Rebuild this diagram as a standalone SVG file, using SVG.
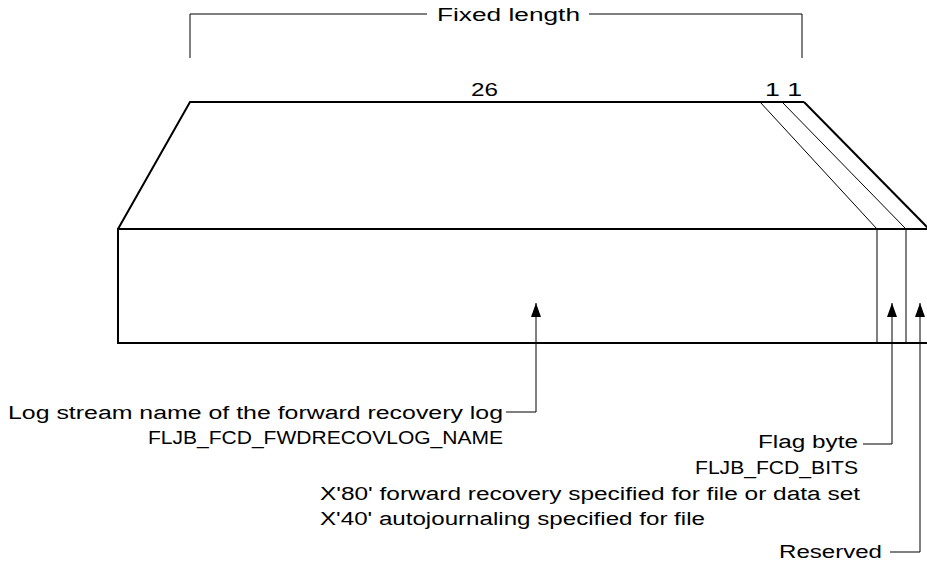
<svg xmlns="http://www.w3.org/2000/svg" width="927" height="566" viewBox="0 0 927 566">
<defs>
<style>
text{font-family:"Liberation Sans",Arial,sans-serif;font-size:18px;fill:#000}
.l{stroke:#000;fill:none;stroke-width:1}
.t{stroke:#000;fill:none;stroke-width:2}
</style>
<marker id="ah" viewBox="0 0 14 10" refX="14" refY="5" markerWidth="14" markerHeight="10" markerUnits="userSpaceOnUse" orient="auto">
<path d="M0,0 L14,5 L0,10 Z" fill="#000"/>
</marker>
</defs>
<rect width="927" height="566" fill="#fff"/>
<g id="bracket">
<polyline class="l" points="190,58 190,14 427,14"/>
<polyline class="l" points="589,14 802,14 802,58"/>
<text x="437" y="21" textLength="143" lengthAdjust="spacingAndGlyphs">Fixed length</text>
</g>
<g id="record">
<polyline class="t" points="118,229 190,102 804,102"/>
<line class="t" x1="804" y1="102" x2="928" y2="228"/>
<line class="l" x1="760" y1="102" x2="877" y2="229"/>
<line class="l" x1="782" y1="102" x2="906" y2="229"/>
<polyline class="t" points="927,229 118,229 118,343 927,343"/>
<line class="l" x1="877" y1="229" x2="877" y2="343"/>
<line class="l" x1="906" y1="229" x2="906" y2="343"/>
<text x="471" y="96" textLength="27" lengthAdjust="spacingAndGlyphs">26</text>
<text x="765" y="96" textLength="37" lengthAdjust="spacingAndGlyphs">1 1</text>
</g>
<g id="connectors">
<polyline class="l" points="506,412 536,412 536,303" marker-end="url(#ah)"/>
<polyline class="l" points="863,444 892,444 892,303" marker-end="url(#ah)"/>
<polyline class="l" points="890,552 920,552 920,303" marker-end="url(#ah)"/>
</g>
<g id="label-log">
<text x="8" y="419" textLength="495" lengthAdjust="spacingAndGlyphs">Log stream name of the forward recovery log</text>
<text x="148" y="444" textLength="355" lengthAdjust="spacingAndGlyphs">FLJB_FCD_FWDRECOVLOG_NAME</text>
</g>
<g id="label-flag">
<text x="758" y="448" textLength="100" lengthAdjust="spacingAndGlyphs">Flag byte</text>
<text x="695" y="474" textLength="163" lengthAdjust="spacingAndGlyphs">FLJB_FCD_BITS</text>
<text x="320" y="500" textLength="540" lengthAdjust="spacingAndGlyphs">X'80' forward recovery specified for file or data set</text>
<text x="320" y="525" textLength="385" lengthAdjust="spacingAndGlyphs">X'40' autojournaling specified for file</text>
</g>
<g id="label-reserved">
<text x="779" y="558" textLength="103" lengthAdjust="spacingAndGlyphs">Reserved</text>
</g>
</svg>
